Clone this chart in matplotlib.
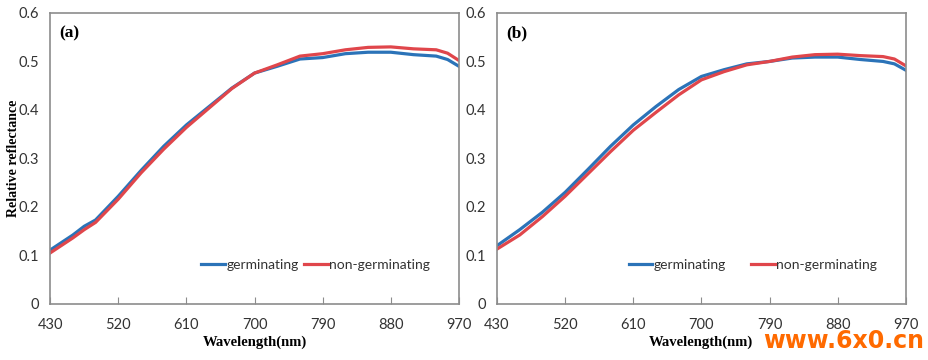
import matplotlib.pyplot as plt
import numpy as np

# wavelengths (nm) sampled off the figure
wl = [430, 460, 475, 490, 520, 550, 580, 610, 640, 670, 700, 730, 760, 790, 820, 850, 880, 910, 940, 955, 970]

# panel (a)
a_germ = [0.111, 0.142, 0.160, 0.173, 0.222, 0.275, 0.325, 0.369, 0.407, 0.445, 0.476, 0.490, 0.505,
          0.508, 0.516, 0.519, 0.519, 0.514, 0.511, 0.504, 0.490]
a_non = [0.105, 0.136, 0.153, 0.168, 0.216, 0.270, 0.319, 0.364, 0.404, 0.444, 0.476, 0.493, 0.511,
         0.516, 0.524, 0.529, 0.530, 0.526, 0.524, 0.517, 0.502]

# panel (b)
b_wl = [430, 460, 490, 520, 550, 580, 610, 640, 670, 700, 730, 760, 790, 820, 850, 880, 910, 940, 955, 970]
b_germ = [0.120, 0.153, 0.189, 0.230, 0.277, 0.325, 0.369, 0.407, 0.442, 0.469, 0.483, 0.495, 0.500,
          0.507, 0.509, 0.509, 0.504, 0.500, 0.495, 0.482]
b_non = [0.113, 0.142, 0.180, 0.222, 0.268, 0.314, 0.358, 0.395, 0.431, 0.462, 0.479, 0.493, 0.500,
         0.509, 0.514, 0.515, 0.512, 0.510, 0.505, 0.491]

xticks = [430, 520, 610, 700, 790, 880, 970]
yticks = [0, 0.1, 0.2, 0.3, 0.4, 0.5, 0.6]
labels = ['germinating', 'non-germinating']
blue = '#2b73b8'
red = '#e0464b'

fig = plt.figure(figsize=(9.29, 3.6), dpi=100)
axA = fig.add_axes([0.054, 0.156, 0.440, 0.808])
axB = fig.add_axes([0.535, 0.156, 0.440, 0.808])

# (axes, x, germ, non-germ, tag, legend column gap)
panels = [(axA, wl, a_germ, a_non, '(a)', 0.4), (axB, b_wl, b_germ, b_non, '(b)', 1.8)]
for ax, x, g, n, tag, gap in panels:
    ax.plot(x, g, color=blue, lw=2.3, label=labels[0])
    ax.plot(x, n, color=red, lw=2.3, label=labels[1])
    ax.set_xlim(430, 970)
    ax.set_ylim(0, 0.6)
    ax.set_xticks(xticks)
    ax.set_yticks(yticks)
    ax.set_yticklabels(['0', '0.1', '0.2', '0.3', '0.4', '0.5', '0.6'])
    for s in ax.spines.values():
        s.set_color('#8c8c8c')
        s.set_linewidth(1.2)
    ax.tick_params(axis='x', direction='in', length=5, color='#8c8c8c', pad=10,
                   labelsize=10.5, labelcolor='#333333')
    ax.tick_params(axis='y', length=0, pad=8, labelsize=10.5, labelcolor='#333333')
    for t in ax.get_xticklabels() + ax.get_yticklabels():
        t.set_fontfamily('Lato')
    ax.text(0.022, 0.93, tag, transform=ax.transAxes, fontsize=12.5, fontweight='bold',
            family='Liberation Serif', va='center')
    ax.set_xlabel('Wavelength(nm)', fontsize=10.5, fontweight='bold', family='Liberation Serif',
                  labelpad=3)
    leg = ax.legend(loc='lower right', bbox_to_anchor=(0.96, 0.07), ncol=2, frameon=False,
                    handlelength=1.7, handletextpad=0.1, columnspacing=gap,
                    prop={'family': 'Lato', 'size': 10})
    for t in leg.get_texts():
        t.set_color('#333333')

axA.set_ylabel('Relative reflectance', fontsize=10, fontweight='bold', family='Liberation Serif')
axA.yaxis.set_label_coords(-0.074, 0.5)

fig.text(0.995, 0.02, 'www.6x0.cn', color='#ff6a00', fontsize=17, fontweight='bold',
         ha='right', va='bottom', family='DejaVu Sans')

fig.savefig('out.png', dpi=100)
